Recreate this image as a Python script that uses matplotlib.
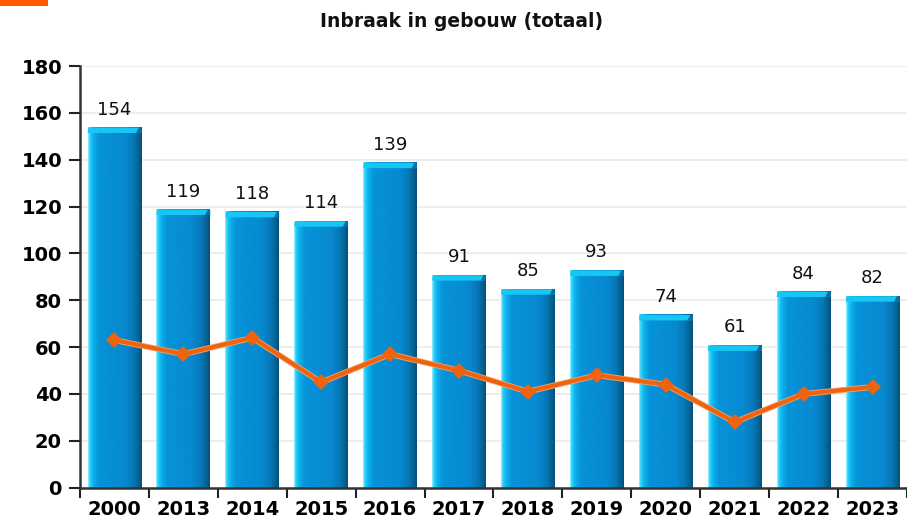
import numpy as np
import matplotlib
matplotlib.use("Agg")
import matplotlib.pyplot as plt
from matplotlib.patches import Rectangle, Polygon
from matplotlib.colors import LinearSegmentedColormap
import matplotlib.patheffects as pe

years = ["2000", "2013", "2014", "2015", "2016", "2017", "2018", "2019", "2020", "2021", "2022", "2023"]
bar_values = [154, 119, 118, 114, 139, 91, 85, 93, 74, 61, 84, 82]
line_values = [63, 57, 64, 45, 57, 50, 41, 48, 44, 28, 40, 43]
title = "Inbraak in gebouw (totaal)"
y_ticks = [0, 20, 40, 60, 80, 100, 120, 140, 160, 180]

W, H = 907, 519
fig = plt.figure(figsize=(W / 100, H / 100), dpi=100)
fig.patches.append(Rectangle((0, 1 - 6 / H), 48 / W, 6 / H, transform=fig.transFigure,
                             facecolor="#ff5a00", edgecolor="none"))

ax = fig.add_axes([80 / W, (H - 487.7) / H, (W - 80) / W, (487.7 - 66) / H])
n = len(years)
x = np.arange(n)
ax.set_xlim(-0.5, n - 0.5)
ax.set_ylim(0, 180)

cmap = LinearSegmentedColormap.from_list("bar", [
    (0.0, "#b5f4ff"), (0.03, "#2ad4fb"), (0.10, "#0cb0ea"), (0.2, "#0793d8"),
    (0.68, "#0789d0"), (0.84, "#0878b8"), (0.95, "#05608f"), (1.0, "#044f78")])
grad = np.linspace(0, 1, 256).reshape(1, -1)
bw = 0.78
cap = 2.6
for xi, v in zip(x, bar_values):
    x0, x1 = xi - bw / 2, xi + bw / 2
    im = ax.imshow(grad, cmap=cmap, extent=(x0, x1, 0, v), aspect="auto",
                   interpolation="bicubic", zorder=2)
    rect = Rectangle((x0, 0), bw, v, transform=ax.transData, facecolor="none", edgecolor="none")
    ax.add_patch(rect)
    im.set_clip_path(rect)
    d = bw * 0.1
    ax.add_patch(Polygon([(x0, v - cap), (x1, v - cap), (x1 - 0.01, v - 0.3), (x0 + 0.01, v - 0.3)],
                         closed=True, facecolor="#16c6f5", edgecolor="none", zorder=3))
    ax.add_patch(Polygon([(x1 - d, v - cap), (x1, v - cap - 0.2), (x1, v - 0.6), (x1 - 0.03, v)],
                         closed=True, facecolor="#0a6fa6", edgecolor="none", zorder=3))
    ax.annotate(str(v), (xi, v), xytext=(0, 6), textcoords="offset points",
                ha="center", va="bottom", fontsize=13, color="#111111", zorder=5)

ax.plot(x, line_values, color="#f0630e", lw=3.0, zorder=6, solid_capstyle="round",
        path_effects=[pe.Stroke(linewidth=4.2, foreground="#f6a36e"), pe.Normal()])
ax.plot(x, line_values, linestyle="none", marker="D", markersize=8, color="#f0630e",
        markeredgewidth=0, zorder=7)

ax.set_yticks(y_ticks)
ax.set_yticklabels([str(t) for t in y_ticks], fontsize=14, fontweight="bold")
ax.yaxis.grid(True, color="#e8e8e8", lw=1.1, zorder=0)
ax.set_axisbelow(True)

ax.set_xticks(np.arange(-0.5, n, 1.0))
ax.set_xticklabels([])
ax.set_xticks(x, minor=True)
ax.set_xticklabels(years, minor=True, fontsize=14, fontweight="bold")
ax.tick_params(axis="x", which="major", length=7, width=1.5, color="#222222", direction="out")
ax.tick_params(axis="x", which="minor", length=0, pad=9)
ax.tick_params(axis="y", length=8, width=1.5, color="#222222", pad=5)

for s in ["top", "right"]:
    ax.spines[s].set_visible(False)
for s in ["left", "bottom"]:
    ax.spines[s].set_color("#333333")
    ax.spines[s].set_linewidth(1.8)

fig.text(462 / W, 1 - 22 / H, title, ha="center", va="center", fontsize=13.5, fontweight="bold",
         color="#111111")

fig.savefig("out.png", dpi=100)
